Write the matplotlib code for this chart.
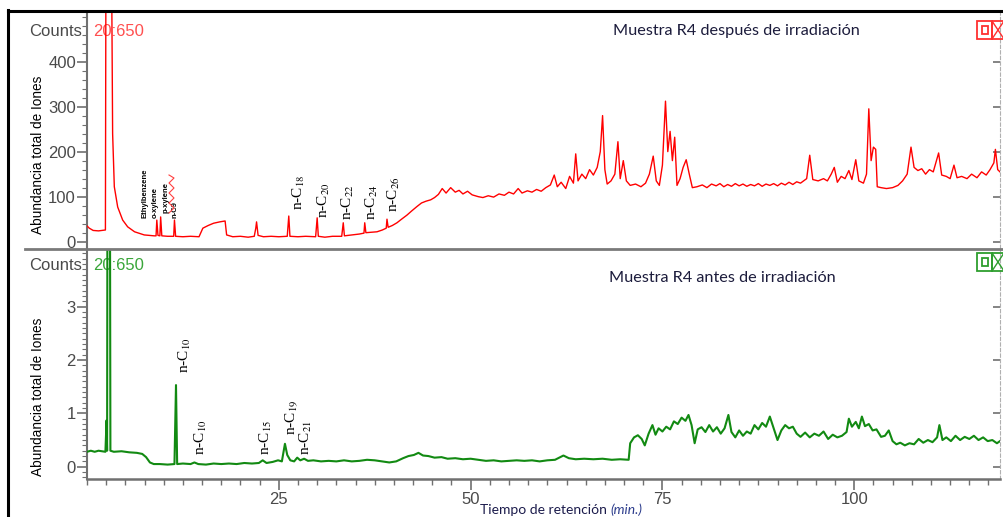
import numpy as np
import matplotlib
matplotlib.use("Agg")
import matplotlib.pyplot as plt
from matplotlib.patches import Rectangle
from matplotlib.ticker import MultipleLocator, FixedLocator

plt.rcParams['font.family'] = ['Liberation Sans', 'DejaVu Sans']
plt.rcParams['mathtext.fontset'] = 'stix'

# red trace: after irradiation (time in min, counts)
red_points = [
    (0.0, 35), (0.3, 30), (0.8, 25), (1.5, 24), (2.0, 25), (2.4, 26),
    (2.5, 900), (3.1, 900), (3.34, 240), (3.56, 122), (4.0, 77), (4.65, 48),
    (5.3, 33), (6.2, 22), (7.46, 15), (8.76, 13), (9.0, 13), (9.1, 48), (9.25, 14),
    (9.5, 13), (9.6, 55), (9.75, 13), (10.5, 12), (11.3, 12), (11.4, 48), (11.55, 12),
    (12.5, 11), (13.5, 12), (14.6, 11), (15.1, 30), (15.8, 36), (16.5, 41), (17.3, 44),
    (18.0, 46), (18.2, 15), (19.0, 11), (20.0, 12), (21.0, 10), (21.8, 12), (22.0, 30),
    (22.1, 44), (22.3, 14), (23.0, 11), (24.0, 12), (25.0, 11), (26.1, 12), (26.3, 57),
    (26.45, 12), (27.5, 11), (28.5, 12), (29.8, 11), (30.0, 53), (30.15, 12), (31.0, 10),
    (32.0, 12), (33.2, 12), (33.4, 42), (33.55, 13), (34.5, 15), (35.5, 17), (36.1, 19),
    (36.2, 42), (36.35, 20), (37.0, 21), (37.8, 22), (38.5, 26), (39.0, 30), (39.1, 50),
    (39.25, 32), (39.8, 36), (40.4, 42), (41.0, 50), (41.7, 59), (42.3, 68), (43.0, 78),
    (43.6, 86), (44.2, 90), (44.8, 93), (45.3, 98), (45.8, 105), (46.3, 118), (46.8, 108),
    (47.4, 120), (48.0, 110), (48.5, 114), (49.0, 106), (49.6, 112), (50.2, 104),
    (51.0, 100), (51.6, 98), (52.3, 102), (53.0, 99), (53.7, 106), (54.4, 103),
    (55.0, 110), (55.6, 106), (56.2, 118), (56.7, 108), (57.4, 113), (58.0, 110),
    (58.6, 116), (59.2, 112), (59.8, 120), (60.4, 126), (60.9, 148), (61.3, 122),
    (61.8, 132), (62.4, 118), (62.9, 145), (63.4, 130), (63.7, 195), (64.0, 135),
    (64.5, 150), (65.0, 140), (65.5, 160), (66.0, 148), (66.5, 165), (66.9, 200),
    (67.2, 280), (67.5, 160), (67.8, 128), (68.3, 135), (68.8, 150), (69.2, 222),
    (69.5, 140), (69.9, 180), (70.3, 135), (70.8, 125), (71.5, 128), (72.2, 122),
    (72.8, 130), (73.3, 150), (73.8, 190), (74.2, 135), (74.6, 125), (75.0, 170),
    (75.4, 312), (75.7, 200), (76.0, 245), (76.3, 180), (76.6, 232), (76.9, 125),
    (77.3, 140), (77.7, 165), (78.1, 182), (78.5, 150), (78.9, 120), (79.5, 122),
    (80.2, 126), (80.8, 120), (81.4, 128), (82.0, 124), (82.5, 129), (83.0, 122),
    (83.5, 127), (84.0, 123), (84.5, 129), (85.0, 124), (85.5, 128), (86.0, 123),
    (86.5, 127), (87.0, 124), (87.5, 129), (88.0, 123), (88.5, 128), (89.0, 125),
    (89.5, 129), (90.0, 124), (90.5, 130), (91.0, 126), (91.5, 132), (92.0, 127),
    (92.5, 133), (93.0, 130), (93.8, 140), (94.2, 192), (94.6, 138),
    (95.3, 135), (96.0, 140), (96.5, 135), (97.0, 150), (97.4, 165), (97.8, 132),
    (98.3, 145), (98.8, 140), (99.3, 158), (99.7, 138), (100.2, 182), (100.6, 135),
    (101.2, 130), (101.6, 150), (101.9, 295), (102.2, 180), (102.5, 210), (102.8, 205),
    (103.0, 122), (103.5, 120), (104.2, 118), (105.0, 120), (105.7, 125), (106.3, 135),
    (106.9, 150), (107.4, 210), (107.8, 165), (108.3, 158), (108.8, 162), (109.3, 150),
    (109.8, 160), (110.3, 155), (111.0, 197), (111.4, 148), (112.0, 145), (112.5, 140),
    (113.0, 170), (113.4, 142), (114.0, 145), (114.7, 140), (115.3, 150), (116.0, 142),
    (116.6, 155), (117.2, 148), (117.7, 160), (118.2, 175), (118.4, 205), (118.7, 160),
    (119.0, 155),
]

# green trace: before irradiation
green_points = [
    (0.0, 0.28), (0.5, 0.30), (1.0, 0.28), (1.5, 0.30), (2.0, 0.29), (2.4, 0.28),
    (2.55, 0.87), (2.62, 0.30), (2.7, 9.0), (2.95, 9.0), (3.05, 0.30), (3.5, 0.28),
    (4.5, 0.29), (5.5, 0.27), (6.5, 0.26), (7.2, 0.24), (7.7, 0.18), (8.2, 0.08),
    (8.7, 0.05), (9.5, 0.05), (10.5, 0.04), (11.4, 0.05), (11.6, 1.53), (11.75, 0.05),
    (12.5, 0.06), (13.5, 0.05), (14.0, 0.08), (14.5, 0.05), (15.5, 0.04), (16.5, 0.06),
    (17.5, 0.05), (18.5, 0.06), (19.5, 0.05), (20.5, 0.07), (21.5, 0.06), (22.4, 0.07),
    (22.9, 0.12), (23.4, 0.07), (24.2, 0.09), (24.9, 0.12), (25.4, 0.10), (25.8, 0.43),
    (26.1, 0.22), (26.5, 0.12), (27.0, 0.10), (27.4, 0.17), (27.8, 0.12), (28.3, 0.15),
    (28.8, 0.11), (29.5, 0.12), (30.5, 0.10), (31.5, 0.11), (32.5, 0.10), (33.5, 0.12),
    (34.5, 0.10), (35.5, 0.11), (36.5, 0.13), (37.5, 0.12), (38.5, 0.10), (39.4, 0.08),
    (40.3, 0.10), (41.2, 0.16), (41.9, 0.20), (42.6, 0.22), (43.2, 0.26), (43.8, 0.21),
    (44.5, 0.20), (45.3, 0.17), (46.2, 0.18), (47.0, 0.15), (48.0, 0.16), (49.0, 0.14),
    (50.0, 0.15), (51.0, 0.13), (52.0, 0.11), (53.0, 0.12), (54.0, 0.10), (55.0, 0.11),
    (56.0, 0.12), (57.0, 0.11), (58.0, 0.12), (59.0, 0.10), (60.0, 0.12), (61.0, 0.13),
    (62.1, 0.21), (62.8, 0.16), (63.7, 0.14), (64.8, 0.15), (66.0, 0.14), (67.2, 0.15),
    (68.4, 0.13), (69.5, 0.14), (70.6, 0.13), (70.8, 0.44), (71.3, 0.55), (71.8, 0.59),
    (72.3, 0.52), (72.7, 0.40), (73.2, 0.62), (73.7, 0.78), (74.1, 0.60), (74.5, 0.72),
    (75.0, 0.66), (75.5, 0.75), (76.0, 0.70), (76.5, 0.85), (77.0, 0.80), (77.5, 0.92),
    (78.0, 0.86), (78.4, 0.97), (78.8, 0.78), (79.2, 0.44), (79.6, 0.70), (80.1, 0.74),
    (80.6, 0.65), (81.1, 0.78), (81.6, 0.66), (82.1, 0.74), (82.6, 0.62), (83.1, 0.72),
    (83.6, 0.97), (84.0, 0.65), (84.5, 0.55), (85.0, 0.68), (85.5, 0.58), (86.0, 0.66),
    (86.5, 0.62), (87.0, 0.78), (87.5, 0.70), (88.0, 0.82), (88.5, 0.75), (89.0, 0.94),
    (89.5, 0.72), (90.0, 0.50), (90.5, 0.68), (91.0, 0.78), (91.5, 0.72), (92.0, 0.75),
    (92.5, 0.62), (93.0, 0.56), (93.6, 0.64), (94.2, 0.55), (94.8, 0.62), (95.4, 0.58),
    (96.0, 0.66), (96.6, 0.52), (97.2, 0.60), (97.8, 0.55), (98.4, 0.58), (99.0, 0.65),
    (99.3, 0.90), (99.7, 0.75), (100.2, 0.84), (100.6, 0.72), (101.0, 0.94), (101.4, 0.76),
    (101.9, 0.80), (102.4, 0.68), (102.9, 0.70), (103.5, 0.56), (104.0, 0.58), (104.5, 0.68),
    (105.0, 0.48), (105.5, 0.42), (106.0, 0.45), (106.6, 0.40), (107.2, 0.44), (107.8, 0.42),
    (108.4, 0.52), (109.0, 0.45), (109.6, 0.50), (110.2, 0.46), (110.8, 0.55), (111.1, 0.78),
    (111.5, 0.50), (112.0, 0.55), (112.6, 0.48), (113.2, 0.58), (113.8, 0.50), (114.4, 0.56),
    (115.0, 0.52), (115.6, 0.58), (116.2, 0.50), (116.8, 0.55), (117.4, 0.48), (118.0, 0.50),
    (118.6, 0.44), (119.0, 0.48),
]

red_time, red_counts = map(np.array, zip(*red_points))
green_time, green_counts = map(np.array, zip(*green_points))

top_ticks = [0, 100, 200, 300, 400]
bot_ticks = [0, 1, 2, 3]
time_ticks = [25, 50, 75, 100]

# peak labels (text, time, value at bottom of text)
top_labels = ['n-C$_{18}$', 'n-C$_{20}$', 'n-C$_{22}$', 'n-C$_{24}$', 'n-C$_{26}$']
top_label_t = [27.6, 30.9, 34.0, 37.1, 40.0]
top_label_v = [70, 53, 48, 48, 66]
small_labels = ['Ethylbenzene', 'o-xylene', 'p-xylene', 'n-C9']
small_label_t = [7.6, 8.9, 10.3, 11.5]
small_label_v = [52, 52, 64, 52]
bot_labels = ['n-C$_{10}$', 'n-C$_{10}$', 'n-C$_{15}$', 'n-C$_{19}$', 'n-C$_{21}$']
bot_label_t = [12.8, 14.8, 23.3, 26.7, 28.5]
bot_label_v = [1.76, 0.22, 0.22, 0.59, 0.22]

W, H = 1004, 517
fig = plt.figure(figsize=(W / 100, H / 100), dpi=100)


def rect(l, t, r, b):
    return [l / W, 1 - b / H, (r - l) / W, (b - t) / H]


def px(x, y):
    return x / W, 1 - y / H


GRAY = '#707070'
TXT = '#4a4a4a'
ax1 = fig.add_axes(rect(87, 12, 1000, 248))
ax2 = fig.add_axes(rect(87, 249, 1000, 479))

ax1.plot(red_time, red_counts, color='#ff0000', lw=1.0, zorder=3)
ax2.plot(green_time, green_counts, color='#128a12', lw=1.5, zorder=3)

ax1.set_ylim(-14, 510)
ax2.set_ylim(-0.23, 4.08)
for ax, ticks in ((ax1, top_ticks), (ax2, bot_ticks)):
    ax.set_xlim(0, 119)
    ax.set_yticks(ticks)
    ax.spines['top'].set_visible(False)
    ax.spines['left'].set_color(GRAY)
    ax.spines['left'].set_linewidth(1.5)
    ax.spines['right'].set_visible(False)
    ax.tick_params(axis='y', which='major', direction='out', length=7, width=1.2,
                   color=GRAY, labelcolor=TXT, labelsize=12, pad=1)
    ax.tick_params(axis='y', which='minor', direction='out', length=3.5, width=0.8,
                   color=GRAY)
    sec = ax.secondary_yaxis('right')
    sec.set_yticks(ticks)
    sec.spines['right'].set_linestyle((0, (3, 2)))
    sec.spines['right'].set_color('#b0b0b0')
    sec.spines['right'].set_linewidth(0.8)
    sec.tick_params(axis='y', direction='in', length=5, width=1.2, color=GRAY,
                    labelright=False)
    sec.yaxis.set_minor_locator(FixedLocator([]))

ax1.yaxis.set_minor_locator(MultipleLocator(20))
ax1.set_xticks([])
ax1.spines['bottom'].set_visible(False)

ax2.yaxis.set_minor_locator(MultipleLocator(0.1))
ax2.spines['bottom'].set_color(GRAY)
ax2.spines['bottom'].set_linewidth(1.8)
ax2.set_xticks(time_ticks)
ax2.xaxis.set_minor_locator(MultipleLocator(2.5))
ax2.tick_params(axis='x', which='major', direction='out', length=8, width=1.2,
                color=GRAY, labelcolor=TXT, labelsize=12, pad=1)
ax2.tick_params(axis='x', which='minor', direction='out', length=4, width=1.0,
                color=GRAY)

# peak labels
for lab, t, v in zip(top_labels, top_label_t, top_label_v):
    ax1.text(t, v, lab, rotation=90, ha='center', va='bottom', fontsize=11,
             family='Liberation Serif', color='black', zorder=4)
for lab, t, v in zip(small_labels, small_label_t, small_label_v):
    ax1.text(t, v, lab, rotation=90, ha='center', va='bottom', fontsize=5.5,
             fontweight='bold', color='black', zorder=4)
for lab, t, v in zip(bot_labels, bot_label_t, bot_label_v):
    ax2.text(t, v, lab, rotation=90, ha='center', va='bottom', fontsize=11,
             family='Liberation Serif', color='black', zorder=4)

# counts / ion labels and titles
for ax, y, col in ((ax1, 31, '#ff5050'), (ax2, 265, '#3aa63a')):
    ax.text(*px(82, y), 'Counts', transform=fig.transFigure, ha='right', va='center',
            fontsize=12, color=TXT, clip_on=False, zorder=1)
    ax.text(*px(93, y), '20:650', transform=fig.transFigure, ha='left', va='center',
            fontsize=12, color=col, clip_on=False, zorder=1)

ax1.text(*px(736, 31), 'Muestra R4 después de irradiación', transform=fig.transFigure,
         ha='center', va='center', fontsize=11.7, family='Lato', color='#1c1c3c')
ax2.text(*px(722, 278), 'Muestra R4 antes de irradiación', transform=fig.transFigure,
         ha='center', va='center', fontsize=11.7, family='Lato', color='#1c1c3c')

fig.text(*px(38, 155), 'Abundancia total de Iones', rotation=90, ha='center',
         va='center', fontsize=9.8, color='black')
fig.text(*px(38, 397), 'Abundancia total de Iones', rotation=90, ha='center',
         va='center', fontsize=9.8, color='black')

xl = fig.text(*px(480, 510), 'Tiempo de retención ', ha='left', va='center',
              fontsize=10, family='Lato', color='#1c1c4c')
fig.canvas.draw()
bb = xl.get_window_extent(fig.canvas.get_renderer())
fig.text(bb.x1 / W, 1 - 510 / H, '(min.)', ha='left', va='center', fontsize=10,
         family='Lato', style='italic', color='#2c3c8c')

# decorations in pixel space: frame, separator, window icons
deco = fig.add_axes([0, 0, 1, 1], zorder=10)
deco.set_xlim(0, W)
deco.set_ylim(H, 0)
deco.axis('off')
deco.patch.set_alpha(0)
deco.plot([8.5, 8.5], [10, H], color='black', lw=2.2)
deco.plot([8, W], [10.5, 10.5], color='black', lw=2.2)
deco.plot([25, W], [248.5, 248.5], color='#7a7a7a', lw=2.0)
deco.plot([169, 174, 169, 174, 169, 174, 169, 174, 169],
          [213, 208, 203, 198, 193, 188, 183, 178, 175], color='#ff4040', lw=0.8)
for y0, col in ((21, '#ff3030'), (253, '#2e9e2e')):
    deco.add_patch(Rectangle((977, y0), 15, 18, fill=False, ec=col, lw=1.3))
    deco.add_patch(Rectangle((982, y0 + 5), 6, 8, fill=False, ec=col, lw=1.3))
    deco.add_patch(Rectangle((992, y0), 13, 18, fill=False, ec=col, lw=1.3))
    deco.plot([992, 1004], [y0, y0 + 18], color=col, lw=1.0)
    deco.plot([992, 1004], [y0 + 18, y0], color=col, lw=1.0)

fig.savefig('out.png', dpi=100)
